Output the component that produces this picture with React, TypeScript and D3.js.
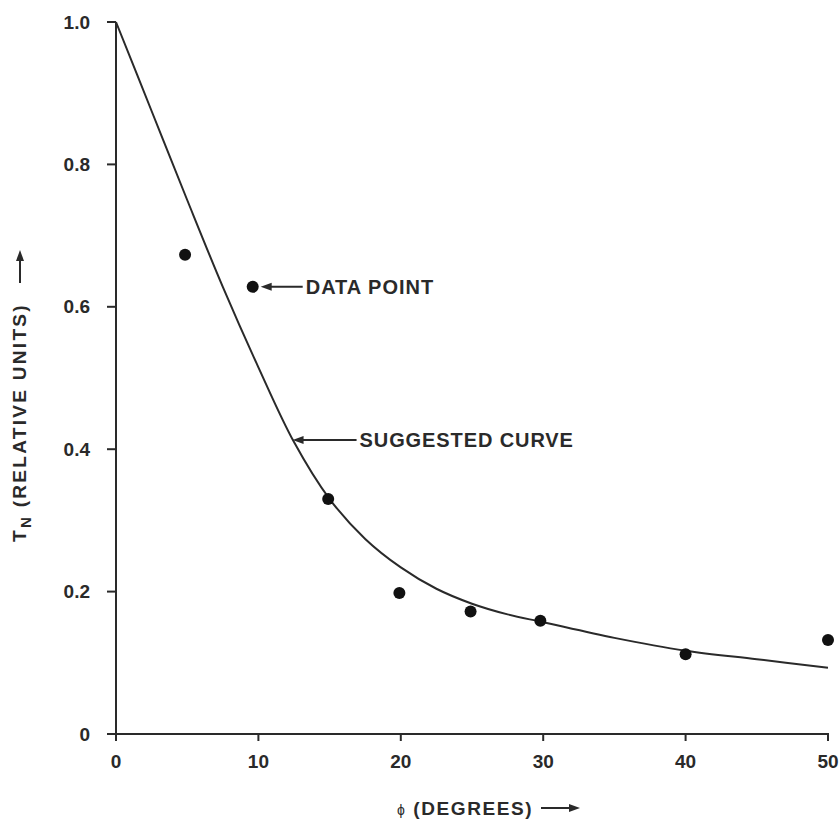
import React from "react";
import * as d3 from "d3";

// suggested curve
const curvePhi = [0, 2.5, 5, 7.5, 10, 12.5, 15, 17.5, 20, 22.5, 25, 27.5, 30, 35, 40, 45, 50];
const curveTn = [1.0, 0.875, 0.75, 0.628, 0.515, 0.41, 0.33, 0.274, 0.234, 0.204, 0.183, 0.168, 0.157, 0.135, 0.117, 0.105, 0.093];

// measured data points
const pointPhi = [4.85, 9.6, 14.9, 19.9, 24.9, 29.8, 40, 50];
const pointTn = [0.673, 0.628, 0.33, 0.198, 0.172, 0.159, 0.112, 0.132];

const xTicks = [0, 10, 20, 30, 40, 50];
const yTicks = [0, 0.2, 0.4, 0.6, 0.8, 1.0];
const yTickLabels = ["0", "0.2", "0.4", "0.6", "0.8", "1.0"];

const W = 840;
const H = 819;
const ink = "#2a2a2a";
const font = "'Liberation Sans', Arial, sans-serif";

const App = () => {
  const x = d3.scaleLinear().domain([0, 50]).range([116, 828]);
  const y = d3.scaleLinear().domain([0, 1]).range([734, 22]);

  const line = d3
    .line<number>()
    .x((d, i) => x(curvePhi[i]))
    .y((d) => y(d))
    .curve(d3.curveCatmullRom.alpha(0.5));

  const arrowHead = (tx: number, ty: number, dir: "left" | "right" | "up") => {
    const L = 11;
    const h = 4;
    if (dir === "left") return `M${tx},${ty} L${tx + L},${ty - h} L${tx + L},${ty + h} Z`;
    if (dir === "right") return `M${tx},${ty} L${tx - L},${ty - h} L${tx - L},${ty + h} Z`;
    return `M${tx},${ty} L${tx - h},${ty + L} L${tx + h},${ty + L} Z`;
  };

  // annotation anchors (data point at 10°, curve near 12°)
  const dpX = x(pointPhi[1]) + 8;
  const dpY = y(pointTn[1]);
  const scX = x(12.4);
  const scY = y(0.413);

  return (
    <svg
      width={W}
      height={H}
      style={{ position: "absolute", left: 0, top: 0, background: "#fff" }}
      fontFamily={font}
      fontWeight="bold"
      fill={ink}
    >
      {/* axes */}
      <line x1={x(0)} x2={x(0)} y1={y(1)} y2={y(0) + 7} stroke={ink} strokeWidth={2} />
      <line x1={x(0) - 9} x2={x(50) + 1} y1={y(0)} y2={y(0)} stroke={ink} strokeWidth={2} />
      {yTicks.map((t, i) => (
        <g key={"y" + i}>
          <line x1={x(0) - 9} x2={x(0)} y1={y(t)} y2={y(t)} stroke={ink} strokeWidth={2} />
          <text x={90} y={y(t)} dy="0.35em" textAnchor="end" fontSize="19px">
            {yTickLabels[i]}
          </text>
        </g>
      ))}
      {xTicks.map((t, i) => (
        <g key={"x" + i}>
          <line x1={x(t)} x2={x(t)} y1={y(0)} y2={y(0) + 7} stroke={ink} strokeWidth={2} />
          <text x={x(t)} y={768} textAnchor="middle" fontSize="19px">
            {t}
          </text>
        </g>
      ))}

      {/* suggested curve */}
      <path d={line(curveTn) || ""} fill="none" stroke={ink} strokeWidth={2} />

      {/* data points */}
      {pointPhi.map((p, i) => (
        <circle key={"p" + i} cx={x(p)} cy={y(pointTn[i])} r={6} fill="#111" />
      ))}

      {/* annotations */}
      <line x1={dpX + 8} x2={dpX + 42} y1={dpY} y2={dpY} stroke={ink} strokeWidth={2} />
      <path d={arrowHead(dpX, dpY, "left")} fill={ink} />
      <text x={dpX + 45} y={dpY} dy="0.36em" fontSize="20px" letterSpacing="1">
        DATA POINT
      </text>

      <line x1={scX + 8} x2={scX + 64} y1={scY} y2={scY} stroke={ink} strokeWidth={2} />
      <path d={arrowHead(scX, scY, "left")} fill={ink} />
      <text x={scX + 67} y={scY} dy="0.36em" fontSize="20px" letterSpacing="0.9">
        SUGGESTED CURVE
      </text>

      {/* y axis title */}
      <g transform="translate(26,542) rotate(-90)">
        <text x={0} y={0} fontSize="19px" letterSpacing="2.3">
          T<tspan fontSize="15px" dy="5">N</tspan>
          <tspan dy="-5"> (RELATIVE UNITS)</tspan>
        </text>
      </g>
      <line x1={20} x2={20} y1={283} y2={258} stroke={ink} strokeWidth={2} />
      <path d={arrowHead(20, 250, "up")} fill={ink} />

      {/* x axis title */}
      <text x={397} y={815} fontSize="19px" letterSpacing="1.6">
        <tspan fontSize="14px" fontWeight="normal">ϕ</tspan> (DEGREES)
      </text>
      <line x1={541} x2={570} y1={808} y2={808} stroke={ink} strokeWidth={2} />
      <path d={arrowHead(580, 808, "right")} fill={ink} />
    </svg>
  );
};

export default App;
